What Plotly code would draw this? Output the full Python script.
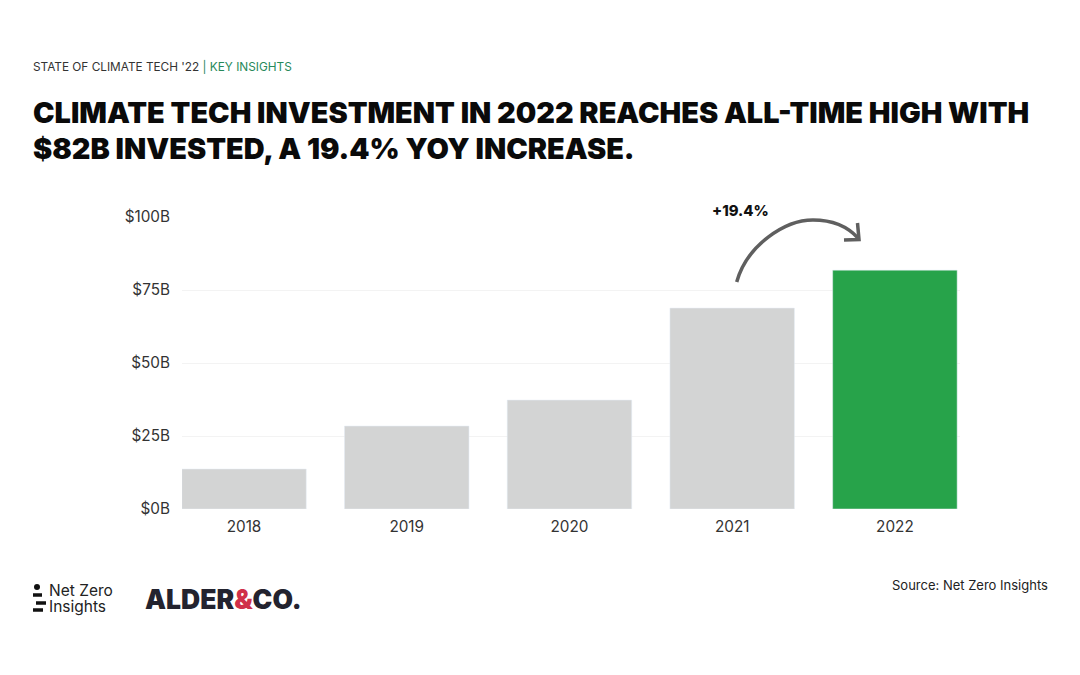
import plotly.graph_objects as go

# the page body adds 8px around the figure, so the figure is 16px smaller than the window
W, H = 1064, 659
PLOT_L, PLOT_R, PLOT_T, PLOT_B = 182, 960, 217, 509

years = ['2018', '2019', '2020', '2021', '2022']
invested = [13.7, 28.4, 37.3, 68.8, 81.8]
bar_colors = ['#d3d4d4', '#d3d4d4', '#d3d4d4', '#d3d4d4', '#27a34a']
tick_vals = [0, 25, 50, 75, 100]
tick_text = ['$0B', '$25B', '$50B', '$75B', '$100B']

FONT = 'Inter'


def px(x):
    return (x - PLOT_L) / (PLOT_R - PLOT_L)


def py(y):
    return 1 - (y - PLOT_T) / (PLOT_B - PLOT_T)


def text(x, y, s, size, color='#222222', weight=400, anchor='left'):
    return dict(x=px(x), y=py(y), xref='paper', yref='paper', text=s, showarrow=False,
                xanchor=anchor, yanchor='middle', align=anchor,
                font=dict(family=FONT, size=size, color=color, weight=weight))


def to_paper(x, y):
    return f'{px(x):.5f},{py(y):.5f}'


fig = go.Figure(go.Bar(
    x=years,
    y=invested,
    marker_color=bar_colors,
    width=0.765,
))

annotations = [
    text(31, 66.5, "STATE OF CLIMATE TECH '22 <span style='color:#27895a'>| KEY INSIGHTS</span>", 11.8, '#333333'),
    text(31, 112, 'CLIMATE TECH INVESTMENT IN 2022 REACHES ALL-TIME HIGH WITH', 28.9, '#0a0a0a', 900),
    text(31, 148, '$82B INVESTED, A 19.4% YOY INCREASE.', 28.9, '#0a0a0a', 900),
    text(740, 211, '+19.4%', 14.8, '#111111', 800, 'center'),
    text(1050, 585, 'Source: Net Zero Insights', 13, '#222222', 400, 'right'),
    text(47, 590, 'Net Zero', 15.5, '#222222'),
    text(47, 606, 'Insights', 15.5, '#222222'),
    text(143, 599, "ALDER<span style='color:#d0304a'>&amp;</span>CO.", 26.5, '#23232f', 900),
]

shapes = [
    # curved arrow
    dict(type='path', xref='paper', yref='paper', line=dict(color='#5f5f5f', width=3.5),
         path=f'M {to_paper(736.7, 282)} C {to_paper(747, 245)} {to_paper(785, 220)} {to_paper(813, 220)} '
              f'C {to_paper(832, 220)} {to_paper(848, 227)} {to_paper(858, 238)}'),
    dict(type='path', xref='paper', yref='paper', line=dict(color='#5f5f5f', width=3.5),
         path=f'M {to_paper(857.5, 223)} L {to_paper(859, 239.5)} L {to_paper(844, 240)}'),
    # net zero logo marks
    dict(type='circle', xref='paper', yref='paper', fillcolor='#111111', line_width=0,
         x0=px(34), x1=px(40), y0=py(590), y1=py(584)),
    dict(type='path', xref='paper', yref='paper', line=dict(color='#111111', width=3.5),
         path=f'M {to_paper(33, 595)} L {to_paper(42, 595)}'),
    dict(type='path', xref='paper', yref='paper', line=dict(color='#111111', width=3.5),
         path=f'M {to_paper(36, 603)} L {to_paper(46, 603)}'),
    dict(type='path', xref='paper', yref='paper', line=dict(color='#111111', width=3.5),
         path=f'M {to_paper(33, 610)} L {to_paper(43, 610)}'),
]

fig.update_layout(
    width=W,
    height=H,
    margin=dict(l=PLOT_L - 8, r=W - (PLOT_R - 8), t=PLOT_T - 8, b=H - (PLOT_B - 8), pad=0),
    paper_bgcolor='white',
    plot_bgcolor='white',
    showlegend=False,
    annotations=annotations,
    shapes=shapes,
    font=dict(family=FONT, size=15.3, color='#333333'),
    xaxis=dict(type='category', range=[-0.381, 4.4], showgrid=False, zeroline=False,
               showline=False, ticks='', ticklabelstandoff=7),
    yaxis=dict(range=[0, 100], tickvals=tick_vals, ticktext=tick_text, gridcolor='#f3f3f3',
               gridwidth=1, zeroline=False, ticks='', ticklabelstandoff=11),
)

fig.write_html("out.html")
